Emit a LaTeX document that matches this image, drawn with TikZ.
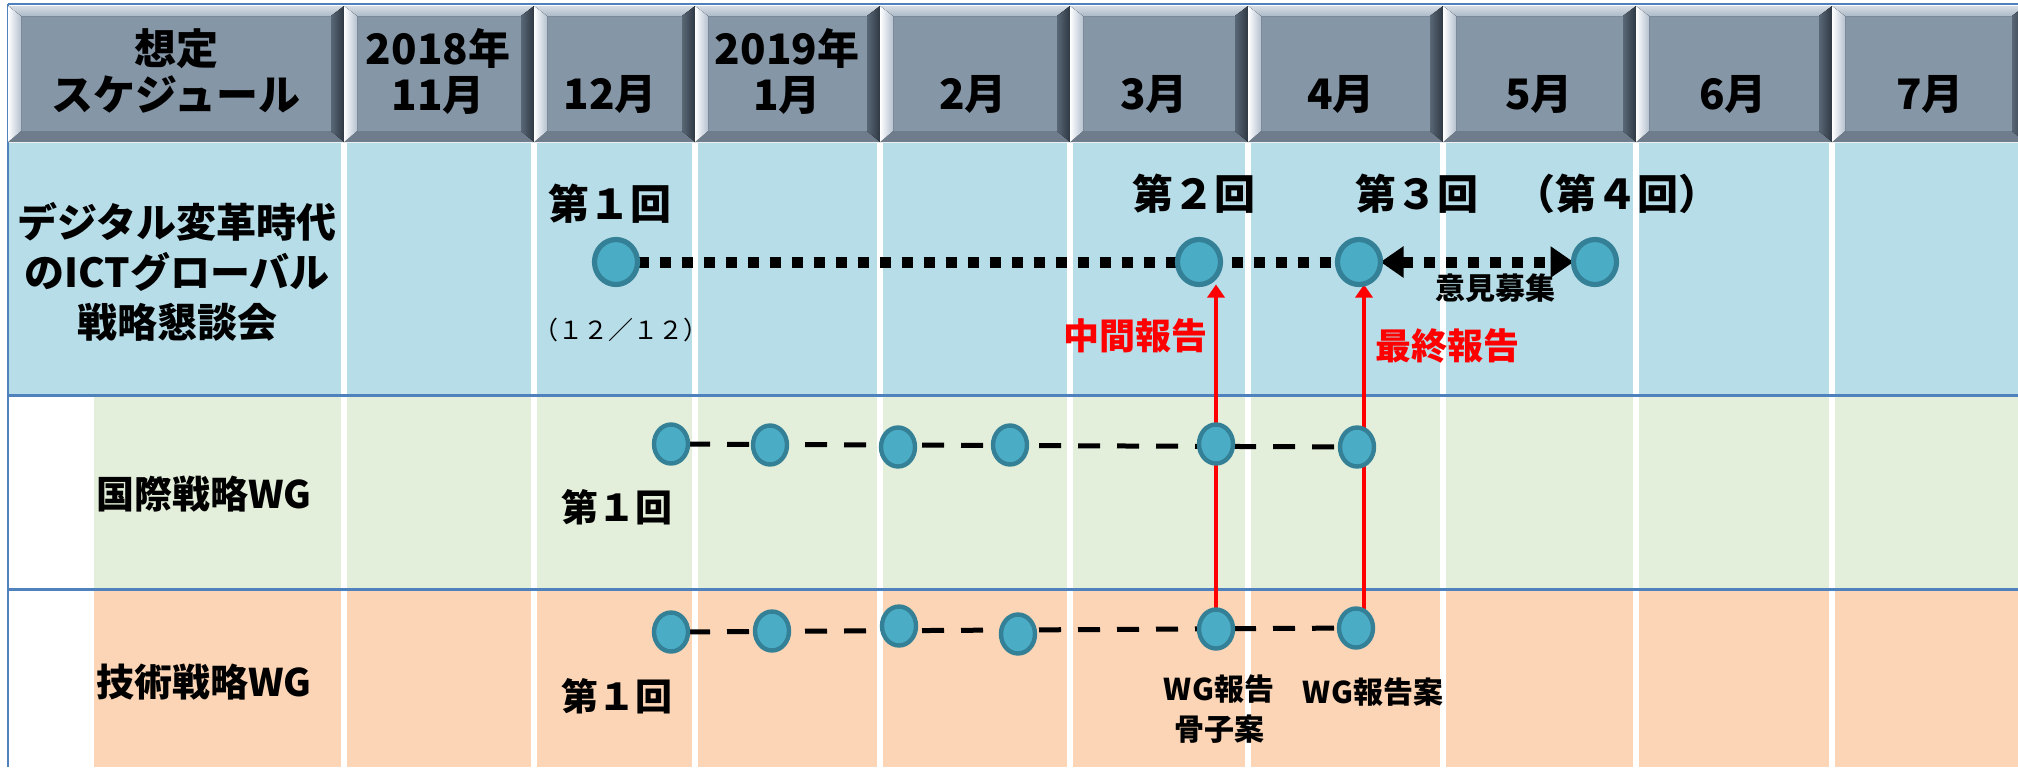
\documentclass[tikz,border=0pt]{standalone}
\usepackage{fontspec}
\newfontfamily\jp{Noto Sans CJK JP}
\usetikzlibrary{arrows.meta,shapes.geometric,calc}
\pgfdeclarelayer{back}
\pgfdeclarelayer{mid}
\pgfsetlayers{back,mid,main}
\definecolor{hdr}{RGB}{133,150,167}
\definecolor{hdrtop}{RGB}{172,185,200}
\definecolor{hdrbot}{RGB}{110,124,140}
\definecolor{hdrlite}{RGB}{180,193,207}
\definecolor{hdrdark}{RGB}{46,56,67}
\definecolor{rowblue}{RGB}{183,221,232}
\definecolor{rowgreen}{RGB}{227,239,218}
\definecolor{roworange}{RGB}{251,213,181}
\definecolor{frameblue}{RGB}{79,129,189}
\definecolor{dotfill}{RGB}{75,172,198}
\definecolor{dotline}{RGB}{52,128,150}
\definecolor{repred}{RGB}{255,0,0}
\newcommand{\hcell}[2]{%
  \fill[hdr] (#1,6) rectangle (#2,142);
  \fill[top color=hdrtop!50!white, bottom color=hdrtop] (#1,6) -- (#2,6) -- ({#2-13},16) -- ({#1+13},16) -- cycle;
  \fill[hdrbot] (#1,142) -- (#2,142) -- ({#2-13},131) -- ({#1+13},131) -- cycle;
  \fill[left color=white, right color=hdrlite] (#1,6) -- ({#1+13},16) -- ({#1+13},131) -- (#1,142) -- cycle;
  \fill[left color=hdrdark!50!hdr, right color=hdrdark] ({#2-13},16) -- (#2,6) -- (#2,142) -- ({#2-13},131) -- cycle;
}
\begin{document}
\begin{tikzpicture}[x=0.5pt,y=-0.5pt,
  every node/.style={inner sep=0pt,outer sep=0pt},
  hdrtxt/.style={font=\jp\bfseries\fontsize{21}{23}\selectfont,align=center},
  rowlbl/.style={font=\jp\bfseries\fontsize{20}{25}\selectfont,align=center},
  wglbl/.style={font=\jp\bfseries\fontsize{19}{22}\selectfont,anchor=west},
  kaitxt/.style={font=\jp\bfseries\fontsize{20.5}{23}\selectfont},
  wgkai/.style={font=\jp\bfseries\fontsize{18.5}{21}\selectfont},
  datetxt/.style={font=\jp\fontsize{12.5}{14}\selectfont},
  smalltxt/.style={font=\jp\bfseries\fontsize{15}{20}\selectfont,align=center},
  redtxt/.style={font=\jp\bfseries\fontsize{18}{21}\selectfont,text=repred},
  bigdot/.style={ellipse,draw=dotline,fill=dotfill,line width=2.6pt,minimum width=21.5pt,minimum height=22.5pt},
  smalldot/.style={ellipse,draw=dotline,fill=dotfill,line width=2.2pt,minimum width=17pt,minimum height=19.5pt},
  squaredots/.style={line width=5.5pt,dash pattern=on 5.5pt off 5.5pt},
  wgdash/.style={line width=2.5pt,dash pattern=on 11pt off 8.5pt},
  report/.style={draw=repred,line width=2.2pt,-{Triangle[length=6.5pt,width=8.5pt]}},
  biarrow/.style={{Triangle[length=11.5pt,width=15pt]}-{Triangle[length=11.5pt,width=15pt]}},
]
\useasboundingbox (0,0) rectangle (2018,767);
\begin{pgfonlayer}{back}
 \begin{scope}
 \clip (0,0) rectangle (2018,767);
 \fill[rowblue] (8,143) rectangle (2018,395);
 \fill[rowgreen] (94,395) rectangle (2018,589);
 \fill[roworange] (94,589) rectangle (2018,767);
 \foreach \x in {344,534,695,880,1070,1248,1443,1636,1832}
   \draw[white,line width=3pt] (\x,143) -- (\x,767);
 \draw[frameblue,line width=1.5pt] (8,395) -- (2018,395) (8,589) -- (2018,589);
 \draw[frameblue,line width=1.2pt] (8,4) -- (2018,4) (8,4) -- (8,767);
 \foreach \a/\b in {8/344,344/534,534/695,695/880,880/1070,1070/1248,1248/1443,1443/1636,1636/1832,1832/2025}
   {\hcell{\a}{\b}}
 \end{scope}
\end{pgfonlayer}

% header texts
\node[hdrtxt] (h0) at (176,71) {想定\\スケジュール};
\node[hdrtxt] (h1) at (438,71) {2018年\\11月};
\node[hdrtxt] (h2) at (610,94) {12月};
\node[hdrtxt] (h3) at (787,71) {2019年\\1月};
\node[hdrtxt] (h4) at (973,94) {2月};
\node[hdrtxt] (h5) at (1154,94) {3月};
\node[hdrtxt] (h6) at (1341,94) {4月};
\node[hdrtxt] (h7) at (1539,94) {5月};
\node[hdrtxt] (h8) at (1733,94) {6月};
\node[hdrtxt] (h9) at (1930,94) {7月};

% row labels
\node[rowlbl] (r1) at (177,272) {デジタル変革時代\\のICTグローバル\\戦略懇談会};
\node[wglbl] (r2) at (96,494) {国際戦略WG};
\node[wglbl] (r3) at (96,682) {技術戦略WG};

% meetings row 1
\node[bigdot] (k1) at (616,262) {};
\node[bigdot] (k2) at (1199,262) {};
\node[bigdot] (k3) at (1359,262) {};
\node[bigdot] (k4) at (1595,262) {};
% row 2
\node[smalldot] (w1) at (671,444) {};
\node[smalldot] (w2) at (770,445) {};
\node[smalldot] (w3) at (898,447) {};
\node[smalldot] (w4) at (1010,445) {};
\node[smalldot] (w5) at (1216,444) {};
\node[smalldot] (w6) at (1357,447) {};
% row 3
\node[smalldot] (t1) at (671,632) {};
\node[smalldot] (t2) at (772,631) {};
\node[smalldot] (t3) at (899,626) {};
\node[smalldot] (t4) at (1018,634) {};
\node[smalldot] (t5) at (1216,629) {};
\node[smalldot] (t6) at (1356,628) {};

% texts
\node[kaitxt] (l1) at (610,204) {第１回};
\node[kaitxt] (l2) at (1194,194) {第２回};
\node[kaitxt] (l3) at (1417,194) {第３回};
\node[kaitxt] (l4) at (1617,194) {（第４回）};
\node[datetxt] (d1) at (621,330) {（１２／１２）};
\node[smalltxt] (ik) at (1495,288) {意見募集};
\node[redtxt] (m1) at (1135,336) {中間報告};
\node[redtxt] (m2) at (1447,346) {最終報告};
\node[wgkai] (g1) at (617,507) {第１回};
\node[wgkai] (g2) at (617,696) {第１回};
\node[smalltxt] (s1) at (1219,709) {WG報告\\骨子案};
\node[smalltxt] (s2) at (1373,692) {WG報告案};

\begin{pgfonlayer}{mid}
\draw[squaredots] (k1) -- (k3);
\draw[squaredots,biarrow] (k3) -- (k4);
\draw[wgdash] (w1) -- (w6);
\draw[wgdash] (t1) -- (t6);
\draw[report] (t5.north) -- (t5.north |- k2.south);
\draw[report] ($(t6.north)+(8,0)$) -- ($(t6.north |- k3.south)+(8,0)$);
\end{pgfonlayer}
\end{tikzpicture}
\end{document}
